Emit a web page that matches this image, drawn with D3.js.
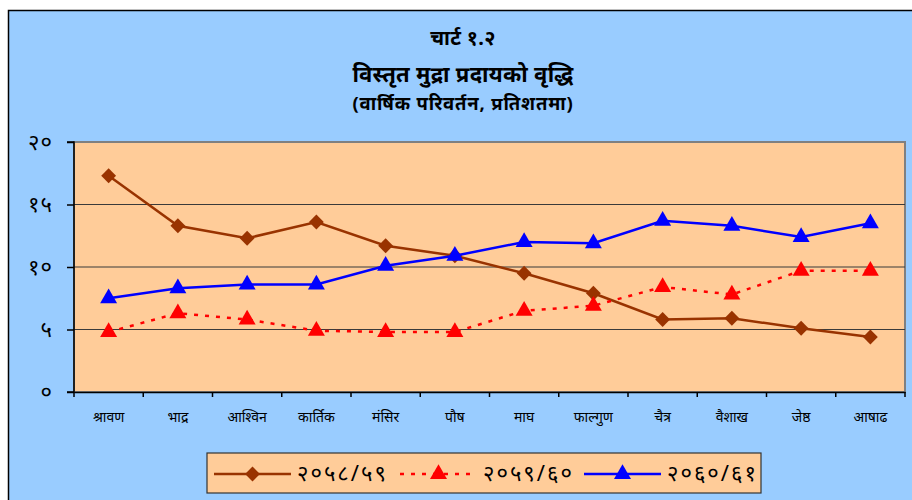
<!DOCTYPE html>
<html>
<head>
<meta charset="utf-8">
<script src="https://cdn.jsdelivr.net/npm/d3@7"></script>
<style>
html,body{margin:0;padding:0;background:#fff;}
svg{display:block;}
</style>
</head>
<body>
<svg id="chart" width="912" height="500"></svg>
<script>
const categories = ["श्रावण","भाद्र","आश्विन","कार्तिक","मंसिर","पौष","माघ","फाल्गुण","चैत्र","वैशाख","जेष्ठ","आषाढ"];
const series2058 = [17.3, 13.3, 12.3, 13.6, 11.7, 10.9, 9.5, 7.9, 5.8, 5.9, 5.1, 4.4];
const series2059 = [4.8, 6.3, 5.8, 4.9, 4.8, 4.8, 6.5, 6.9, 8.4, 7.8, 9.7, 9.7];
const series2060 = [7.5, 8.3, 8.6, 8.6, 10.1, 10.9, 12.0, 11.9, 13.7, 13.3, 12.4, 13.5];
const seriesNames = ["२०५८/५९", "२०५९/६०", "२०६०/६१"];
const yTicks = [0, 5, 10, 15, 20];
const yTickLabels = ["०", "५", "१०", "१५", "२०"];
const titleLines = ["चार्ट १.२", "विस्तृत मुद्रा प्रदायको वृद्धि", "(वार्षिक परिवर्तन, प्रतिशतमा)"];

const devFont = "'Noto Sans', 'Noto Sans Devanagari', 'Lohit Devanagari', 'FreeSans', 'DejaVu Sans', sans-serif";
const svg = d3.select("#chart");

// Figure background
svg.append("rect").attr("x", 8.5).attr("y", 10.5).attr("width", 912).attr("height", 500)
  .attr("fill", "#99CCFF").attr("stroke", "#000").attr("stroke-width", 1.5);

const pLeft = 74, pRight = 905, pTop = 142, pBottom = 392;
const x = d3.scaleBand().domain(categories).range([pLeft, pRight]);
const y = d3.scaleLinear().domain([0, 20]).range([pBottom, pTop]);

// Plot area
svg.append("rect").attr("x", pLeft).attr("y", pTop).attr("width", pRight - pLeft).attr("height", pBottom - pTop)
  .attr("fill", "#FFCC99").attr("stroke", "#808080").attr("stroke-width", 2);

// Gridlines
svg.append("g").selectAll("line").data(yTicks.filter(d => d > 0 && d < 20)).join("line")
  .attr("x1", pLeft).attr("x2", pRight).attr("y1", d => y(d)).attr("y2", d => y(d))
  .attr("stroke", "#3a3a3a").attr("stroke-width", 1.2);

// Y axis
const yAxis = svg.append("g").attr("transform", `translate(${pLeft},0)`)
  .call(d3.axisLeft(y).tickValues(yTicks).tickSize(7).tickPadding(14)
    .tickFormat((d, i) => yTickLabels[i]));
yAxis.selectAll("path,line").attr("stroke", "#000").attr("stroke-width", 1.5);
yAxis.select(".domain").attr("d", `M-7,${pTop}H0V${pBottom}H-7`);
yAxis.selectAll("text").attr("font-family", devFont).attr("font-size", 22)
  .attr("letter-spacing", 1).attr("fill", "#000");

// X axis
const xAxis = svg.append("g").attr("transform", `translate(0,${pBottom})`)
  .call(d3.axisBottom(x).tickSize(0).tickPadding(20));
xAxis.select(".domain").attr("stroke", "#000").attr("stroke-width", 1.5);
xAxis.selectAll("text").attr("font-family", devFont).attr("font-size", 14).attr("fill", "#000");
const bounds = x.domain().map(c => x(c)).concat([pRight]);
xAxis.selectAll(".bticks").data(bounds).join("line")
  .attr("x1", d => d).attr("x2", d => d).attr("y1", 0).attr("y2", 5)
  .attr("stroke", "#000").attr("stroke-width", 1.5);

const cx = c => x(c) + x.bandwidth() / 2;
const line = d3.line().x((d, i) => cx(categories[i])).y(d => y(d));

const diamond = d3.symbol().type(d3.symbolSquare).size(110);
const tri = d3.symbol().type(d3.symbolTriangle).size(125);

function drawSeries(vals, color, dash, sym, rotate) {
  const g = svg.append("g");
  g.append("path").datum(vals).attr("d", line).attr("fill", "none")
    .attr("stroke", color).attr("stroke-width", 2.5).attr("stroke-dasharray", dash);
  g.selectAll("path.m").data(vals).join("path").attr("class", "m")
    .attr("d", sym)
    .attr("transform", (d, i) => `translate(${cx(categories[i])},${y(d)})${rotate ? " rotate(45)" : ""}`)
    .attr("fill", color);
}
drawSeries(series2058, "#993300", null, diamond, true);
drawSeries(series2059, "#FF0000", "4,7", tri, false);
drawSeries(series2060, "#0000FF", null, tri, false);

// Titles
const tsizes = [20, 22, 18.5], tys = [45, 82, 110];
titleLines.forEach((t, i) => {
  svg.append("text").attr("x", 463).attr("y", tys[i]).attr("text-anchor", "middle")
    .attr("font-family", devFont).attr("font-weight", "bold").attr("font-size", tsizes[i])
    .attr("letter-spacing", i === 2 ? 0.8 : 0.3)
    .attr("fill", "#000").text(t);
});

// Legend
const lg = svg.append("g");
lg.append("rect").attr("x", 207).attr("y", 453).attr("width", 554).attr("height", 40)
  .attr("fill", "#FFCC99").attr("stroke", "#333").attr("stroke-width", 1.2);
const legendItems = [
  {name: seriesNames[0], color: "#993300", dash: null, sym: diamond, rot: true, x0: 214},
  {name: seriesNames[1], color: "#FF0000", dash: "4,7", sym: tri, rot: false, x0: 400},
  {name: seriesNames[2], color: "#0000FF", dash: null, sym: tri, rot: false, x0: 584}
];
legendItems.forEach(it => {
  const ly = 474;
  lg.append("line").attr("x1", it.x0).attr("x2", it.x0 + 77).attr("y1", ly).attr("y2", ly)
    .attr("stroke", it.color).attr("stroke-width", 2.5).attr("stroke-dasharray", it.dash);
  lg.append("path").attr("d", it.sym).attr("fill", it.color)
    .attr("transform", `translate(${it.x0 + 38.5},${ly})${it.rot ? " rotate(45)" : ""}`);
  lg.append("text").attr("x", it.x0 + 83).attr("y", ly + 7)
    .attr("font-family", devFont).attr("font-size", 22).attr("letter-spacing", 2)
    .attr("fill", "#000").text(it.name);
});
</script>
</body>
</html>
